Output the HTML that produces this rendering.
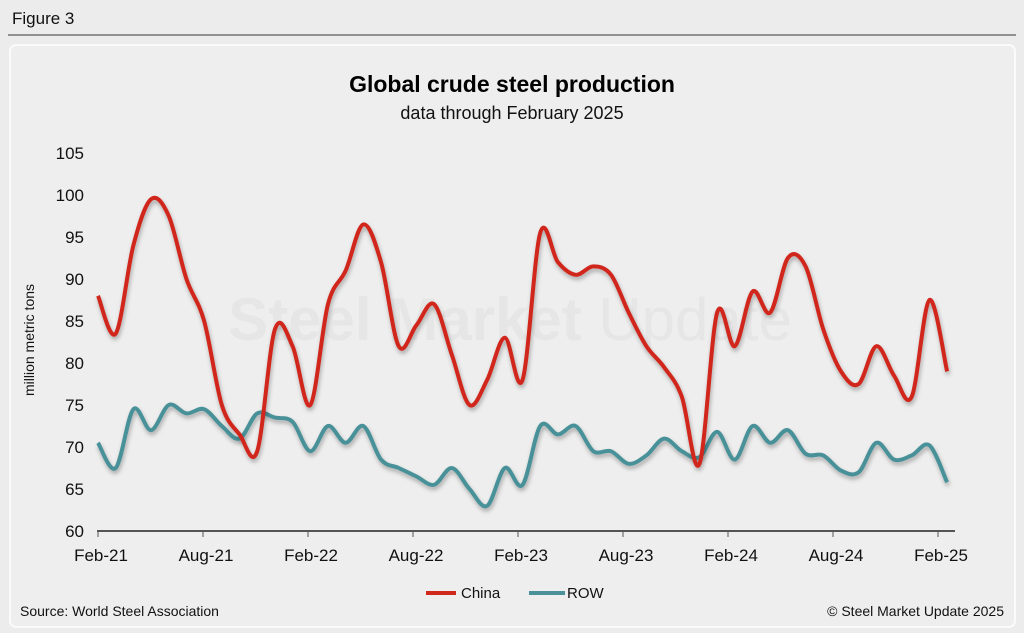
<!DOCTYPE html>
<html><head><meta charset="utf-8"><style>
html,body{margin:0;padding:0;width:1024px;height:633px;background:#ececec;overflow:hidden;font-family:"Liberation Sans",Arial,sans-serif;}
</style></head><body>
<svg width="1024" height="633" xmlns="http://www.w3.org/2000/svg">
<defs><filter id="sh" x="-5%" y="-5%" width="110%" height="120%"><feDropShadow dx="1" dy="3" stdDeviation="2" flood-color="#000" flood-opacity="0.3"/></filter></defs>
<text x="12" y="24" font-size="17" fill="#111">Figure 3</text>
<line x1="8" y1="35" x2="1016" y2="35" stroke="#333" stroke-width="1"/>
<rect x="10" y="45" width="1005" height="582" rx="6" fill="#eeeeee" stroke="#fafafa" stroke-width="2"/>
<text x="512" y="92" font-size="23" font-weight="bold" text-anchor="middle" fill="#000">Global crude steel production</text>
<text x="512" y="119" font-size="18" text-anchor="middle" fill="#111">data through February 2025</text>
<text x="510" y="340" font-size="60" font-weight="bold" text-anchor="middle" fill="#e6e6e6">Steel Market <tspan font-weight="normal">Update</tspan></text>
<text transform="translate(34,340) rotate(-90)" font-size="14" text-anchor="middle" fill="#111">million metric tons</text>
<g id="yt"></g>
<g id="xt"></g>
<g id="lines"></g>
<g>
<g><line x1="426" y1="593" x2="456" y2="593" stroke="#d0281c" stroke-width="4"/><text x="461" y="598" font-size="15" fill="#111">China</text></g>
<g><line x1="529" y1="593" x2="565" y2="593" stroke="#4a9199" stroke-width="4"/><text x="567" y="598" font-size="15" fill="#111">ROW</text></g>
</g>
<text x="20" y="616" font-size="14" fill="#111">Source: World Steel Association</text>
<text x="1004" y="616" font-size="14" text-anchor="end" fill="#111">© Steel Market Update 2025</text>
</svg>
<script>
const yTicks=[60,65,70,75,80,85,90,95,100,105];
const xLabels=["Feb-21","Aug-21","Feb-22","Aug-22","Feb-23","Aug-23","Feb-24","Aug-24","Feb-25"];
const china=[88,83.5,94,99.5,97.5,90,85,75,71.5,69.5,84,82,75,87,91,96.5,92,82,84.5,87,81,75,78,83,78,95.5,92,90.5,91.5,90.5,86,82,79.5,76,68,86,82,88.5,86,92.5,91.5,84,79,77.5,82,78.5,76,87.5,79];
const row=[70.5,67.5,74.5,72,75,74,74.5,72.5,71,74,73.5,73,69.5,72.5,70.5,72.5,68.5,67.5,66.5,65.5,67.5,65,63,67.5,65.5,72.5,71.5,72.5,69.5,69.5,68,69,71,69.5,68.8,71.8,68.5,72.5,70.5,72,69.2,69,67.2,67,70.5,68.5,69,70.2,65.8];
const NS="http://www.w3.org/2000/svg";
function ys(v){return 531-(v-60)*8.4;}
function xs(i){return 98+i*17.69;}
function tickX(k){return 98+k*105;}
const yt=document.getElementById('yt'),xt=document.getElementById('xt'),lg=document.getElementById('lines');
yTicks.forEach(v=>{const t=document.createElementNS(NS,'text');


t.setAttribute('x',84);t.setAttribute('y',ys(v)+6);t.setAttribute('text-anchor','end');t.setAttribute('font-size','17');t.setAttribute('fill','#111');t.textContent=v;yt.appendChild(t);});
const ax=document.createElementNS(NS,'line');


ax.setAttribute('x1',97);ax.setAttribute('x2',955);ax.setAttribute('y1',531);ax.setAttribute('y2',531);ax.setAttribute('stroke','#555');ax.setAttribute('stroke-width','2');xt.appendChild(ax);
xLabels.forEach((l,k)=>{const tk=document.createElementNS(NS,'line');


tk.setAttribute('x1',tickX(k));tk.setAttribute('x2',tickX(k));tk.setAttribute('y1',531);tk.setAttribute('y2',537);tk.setAttribute('stroke','#555');xt.appendChild(tk);
const t=document.createElementNS(NS,'text');


t.setAttribute('x',tickX(k)+3);t.setAttribute('y',561);t.setAttribute('text-anchor','middle');t.setAttribute('font-size','17');t.setAttribute('fill','#111');t.textContent=l;xt.appendChild(t);});
function path(d){const p=d.map((v,i)=>[xs(i),ys(v)]);let s='M'+p[0][0]+','+p[0][1];
for(let i=0;i<p.length-1;i++){const p0=p[Math.max(0,i-1)],p1=p[i],p2=p[i+1],p3=p[Math.min(p.length-1,i+2)];
s+=' C'+(p1[0]+(p2[0]-p0[0])/6)+','+(p1[1]+(p2[1]-p0[1])/6)+' '+(p2[0]-(p3[0]-p1[0])/6)+','+(p2[1]-(p3[1]-p1[1])/6)+' '+p2[0]+','+p2[1];}return s;}
[[row,'#4a9199','row-line'],[china,'#d0281c','china-line']].forEach(([d,c,n])=>{const p=document.createElementNS(NS,'path');


p.setAttribute('d',path(d));p.setAttribute('fill','none');p.setAttribute('stroke',c);p.setAttribute('stroke-width','4');p.setAttribute('filter','url(#sh)');lg.appendChild(p);});
</script>
</body></html>
